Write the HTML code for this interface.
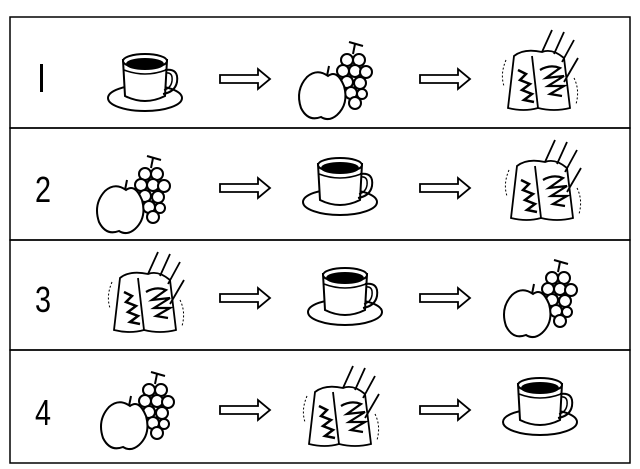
<!DOCTYPE html>
<html><head><meta charset="utf-8"><style>
html,body{margin:0;padding:0;background:#fff;width:640px;height:469px;overflow:hidden}
</style></head><body>
<svg width="640" height="469" viewBox="0 0 640 469" xmlns="http://www.w3.org/2000/svg">
<defs>
<g id="cup" fill="none" stroke="#000" stroke-width="2">
  <ellipse cx="0" cy="20" rx="37" ry="13" fill="#fff"/>
  <path d="M-22,-18 L-20,18 Q0,28 20,18 L22,-18 Z" fill="#fff"/>
  <path d="M20,-8 Q34,-10 32,4 Q30,14 18,16" />
  <path d="M21,-5 Q28,-6 27,3 Q26,10 19,12" stroke-width="1.5"/>
  <ellipse cx="0" cy="-17" rx="22" ry="7" fill="#fff"/>
  <ellipse cx="0" cy="-14" rx="18" ry="5" fill="#000"/>
  <path d="M-21,-8 Q0,0 21,-8" stroke-width="1.5"/>
</g>
<g id="fruit" fill="#fff" stroke="#000" stroke-width="2">
  <g transform="translate(18,-8)">
    <path d="M2,-30 L0,-20" /><path d="M-4,-32 L10,-28"/>
    <circle cx="-6" cy="-14" r="6"/><circle cx="6" cy="-14" r="6"/>
    <circle cx="-10" cy="-3" r="6"/><circle cx="2" cy="-3" r="6"/><circle cx="13" cy="-2" r="6"/>
    <circle cx="-6" cy="8" r="6"/><circle cx="7" cy="9" r="6"/>
    <circle cx="-2" cy="19" r="6"/><circle cx="9" cy="20" r="5"/>
    <circle cx="2" cy="29" r="6"/>
  </g>
  <path d="M-7,-6 Q-18,-14 -28,-5 Q-40,8 -34,26 Q-27,40 -14,35 Q-6,40 2,33 Q14,22 9,4 Q2,-13 -7,-6 Z"/>
  <path d="M-8,-6 L-6,-16" />
</g>
<g id="cloth" fill="none" stroke="#000" stroke-width="1.8">
  <path d="M-28,-22 Q-18,-30 0,-26 Q10,-30 22,-20 L28,30 Q12,34 -4,30 Q-18,34 -34,30 Z" fill="#fff"/>
  <path d="M-10,-22 L-4,30"/>
  <path d="M-24,-8 L-16,-4 L-22,2 L-12,6 L-20,12 L-10,16 L-18,22 L-8,24" stroke-width="2.5"/>
  <path d="M-2,-8 Q8,-14 18,-10 L4,0 L22,-2 L6,8 L22,8 L8,16 L20,18" stroke-width="2.2"/>
  <path d="M0,-26 L10,-48 M12,-24 L22,-46 M20,-16 L32,-38 M22,4 L36,-20"/>
  <path d="M-36,-18 Q-42,-4 -38,8" stroke-dasharray="2 2" stroke-width="1"/>
  <path d="M32,0 Q38,12 34,26" stroke-dasharray="2 2" stroke-width="1"/>
</g>
<g id="arr" fill="#fff" stroke="#000" stroke-width="1.8">
  <path d="M0,-4 L38,-4 L38,-10 L50,0 L38,10 L38,4 L0,4 Z"/>
</g>
</defs>
<g fill="none" stroke="#000" stroke-width="1.5">
  <rect x="10" y="17" width="620" height="111"/>
  <rect x="10" y="128" width="620" height="112"/>
  <rect x="10" y="240" width="620" height="110"/>
  <rect x="10" y="350" width="620" height="113"/>
</g>
<rect x="40" y="64" width="3" height="28" fill="#000"/>
<g font-family="Liberation Sans, sans-serif" font-size="36" fill="#000" text-anchor="middle">
  <text transform="translate(43,202) scale(0.8,1)">2</text>
  <text transform="translate(43,312) scale(0.8,1)">3</text>
  <text transform="translate(43,425) scale(0.8,1)">4</text>
</g>
<use href="#cup" x="145" y="78"/><use href="#arr" x="220" y="79"/><use href="#fruit" x="335" y="82"/><use href="#arr" x="420" y="79"/><use href="#cloth" x="542" y="78"/>
<use href="#fruit" x="133" y="196"/><use href="#arr" x="220" y="188"/><use href="#cup" x="340" y="182"/><use href="#arr" x="420" y="188"/><use href="#cloth" x="545" y="188"/>
<use href="#cloth" x="148" y="300"/><use href="#arr" x="220" y="298"/><use href="#cup" x="345" y="292"/><use href="#arr" x="420" y="298"/><use href="#fruit" x="540" y="300"/>
<use href="#fruit" x="137" y="412"/><use href="#arr" x="220" y="410"/><use href="#cloth" x="343" y="414"/><use href="#arr" x="420" y="410"/><use href="#cup" x="540" y="402"/>
</svg>
</body></html>
